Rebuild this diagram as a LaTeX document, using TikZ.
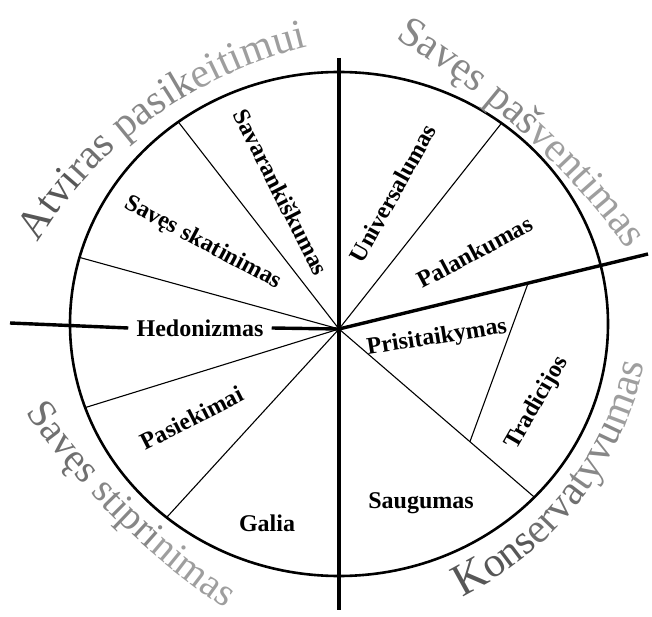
\documentclass[tikz,border=0pt]{standalone}
\usepackage{fontspec}
\setmainfont{Liberation Serif}
\usetikzlibrary{calc,decorations.text}
\colorlet{gA}{black!66}\colorlet{gB}{black!56}
\colorlet{gC}{black!47}\colorlet{gD}{black!38}
\newcommand\ofont[2][21]{\fontsize{#1}{#1}\selectfont\color{#2}}
\tikzset{
  ring/.style={line width=1.3pt},
  axisline/.style={line width=1.7pt},
  spoke/.style={line width=0.55pt},
  val/.style={font=\bfseries\fontsize{12}{14}\selectfont, inner sep=1pt},
  arctext/.style={decorate, decoration={text along path, text={#1}}}
}
\begin{document}
\begin{tikzpicture}[x=0.5pt,y=0.5pt]
  \useasboundingbox (0,0) rectangle (652,616);
  \draw[ring] (339,292) ellipse [x radius=269, y radius=252];
  \coordinate (o) at (339,287);
  \coordinate (s1) at (501.5,492.8); \coordinate (s2) at (178.3,494.1);
  \coordinate (s3) at (79.5,358.6);  \coordinate (s4) at (85.2,208.4);
  \coordinate (s5) at (166.7,98.6);  \coordinate (s6) at (534.4,118.8);
  \coordinate (vtop) at (339,558); \coordinate (vbot) at (339,6);
  \coordinate (rend) at (648,362); \coordinate (lend) at (10,293);
  \foreach \s in {s1,s2,s3,s4,s5,s6} \draw[spoke] (o) -- (\s);
  \coordinate (t1) at ($(o)!0.67!(s6)$); \coordinate (t2) at ($(o)!0.612!(rend)$);
  \draw[spoke] (t1) -- (t2);
  \draw[axisline] (vtop) -- (vbot); \draw[axisline] (o) -- (rend);
  \node[val, rotate=-63] (savar) at (281,424) {Savarankiškumas};
  \node[val, rotate=-28] (skat) at (203,373) {Savęs skatinimas};
  \node[val, rotate=61] (univ) at (393,423) {Universalumas};
  \node[val, rotate=28] (palank) at (475,364) {Palankumas};
  \node[val, inner xsep=4pt] (hedon) at (200,288) {Hedonizmas};
  \node[val, rotate=27] (pasiek) at (192,198) {Pasiekimai};
  \node[val] (galia) at (267,93) {Galia};
  \node[val] (saug) at (421,113) {Saugumas};
  \node[val, rotate=9] (prisit) at (437,278) {Prisitaikymas};
  \node[val, rotate=60] (trad) at (537,213) {Tradicijos};
  \draw[axisline] (lend) -- (hedon.west); \draw[axisline] (hedon.east) -- (o);
  \path[arctext={|\ofont{gA}|Atvi|\ofont{gB}|ras |\ofont{gC}|pasik|\ofont{gD}|eitimui}]
    (410,143) ++(148.2:438) arc[start angle=148.2, end angle=96, radius=438];
  \path[arctext={|\ofont{gC}|Savęs |\ofont{gC}|paš|\ofont{gD}|ventimas}]
    (-10,-102) ++(59.2:791) arc[start angle=59.2, end angle=30, radius=791];
  \path[arctext={|\ofont[20]{gB}|Savęs |\ofont[20]{gC}|stipri|\ofont[20]{gD}|nimas}]
    (648,638) ++(214.9:759) arc[start angle=214.9, end angle=242, radius=759];
  \path[arctext={|\ofont[23]{gA}|K|\ofont{gA}|ons|\ofont{gB}|erva|\ofont{gC}|tyvu|\ofont{gD}|mas}]
    (314,323) ++(-64:338) arc[start angle=-64, end angle=-5, radius=338];
\end{tikzpicture}
\end{document}
